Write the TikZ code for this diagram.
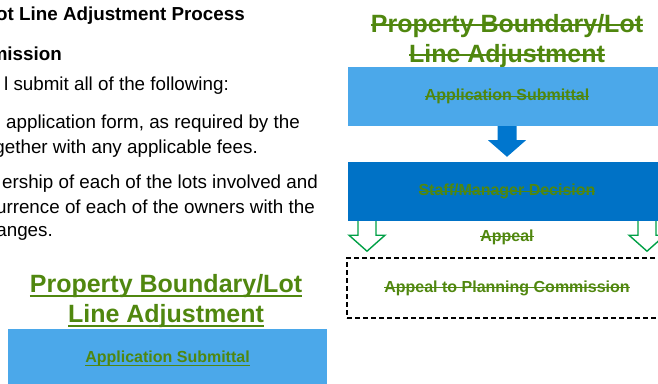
\documentclass[tikz,border=0pt]{standalone}
\usepackage{fontspec}
\setmainfont{Liberation Sans}
\usetikzlibrary{calc}
\definecolor{lblue}{RGB}{75,168,234}
\definecolor{dblue}{RGB}{0,114,198}
\definecolor{ablue}{RGB}{0,118,206}
\definecolor{tgreen}{RGB}{80,135,15}
\definecolor{agreen}{RGB}{0,160,70}
\newcommand{\lineover}[3]{{\setbox0\hbox{#3}\rlap{\rule[#1]{\wd0}{#2}}\box0}}
\newcommand{\strkbig}[1]{\lineover{6.1pt}{1.8pt}{#1}}
\newcommand{\strk}[1]{\lineover{3.8pt}{1.3pt}{#1}}
\newcommand{\ulbig}[1]{\lineover{-5pt}{2pt}{#1}}
\newcommand{\ulsmall}[1]{\lineover{-3.7pt}{1.4pt}{#1}}
\tikzset{
  bodytxt/.style={anchor=base east, inner sep=0pt, text=black, font=\fontsize{18.8}{22}\selectfont},
  bodybold/.style={bodytxt, font=\fontsize{18.8}{22}\selectfont\bfseries},
  bigtitle/.style={anchor=base, align=center, inner sep=0pt, text=tgreen, font=\fontsize{25}{30}\selectfont\bfseries},
  boxnode/.style={minimum width=318pt, minimum height=59pt, inner sep=0pt, text=tgreen, font=\fontsize{16}{19}\selectfont\bfseries},
  smalltxt/.style={inner sep=0pt, text=tgreen, font=\fontsize{16}{19}\selectfont\bfseries},
  hollowarrow/.style={fill=white, draw=agreen, line width=1.4pt, line join=miter}
}
\begin{document}
\begin{tikzpicture}[x=1pt,y=-1pt]
\useasboundingbox (0,0) rectangle (658,383);
\clip (0,0) rectangle (658,383);

% left column text
\node[bodybold] (h1) at (245,20) {ot Line Adjustment Process};
\node[bodybold] (h2) at (62,60) {mission};
\node[bodytxt] (l3) at (229,90) {l submit all of the following:};
\node[bodytxt] (l4) at (300,128) {application form, as required by the};
\node[bodytxt] (l5) at (258,153) {gether with any applicable fees.};
\node[bodytxt] (l6) at (318,188) {ership of each of the lots involved and};
\node[bodytxt] (l7) at (315,213) {urrence of each of the owners with the};
\node[bodytxt] (l8) at (53,236) {anges.};

% left small chart (anchor base = last line)
\node[bigtitle] (ltitle) at (166,322) {\ulbig{Property Boundary/Lot}\\\ulbig{Line Adjustment}};
\node[boxnode, fill=lblue, minimum width=319pt] (appL) at (167.5,358.5) {\ulsmall{Application Submittal}};

% right chart
\node[bigtitle] (rtitle) at (507,62) {\strkbig{Property Boundary/Lot}\\\strkbig{Line Adjustment}};
\node[boxnode, fill=lblue] (appR) at (507,96.5) {\strk{Application Submittal}};
\node[boxnode, fill=dblue] (dec) at (507,191.5) {\strk{Staff/Manager Decision}};
\node[boxnode, draw=black, line width=1.5pt, dash pattern=on 5pt off 3pt, minimum width=320pt, minimum height=60pt] (apc) at (507,288) {\strk{Appeal to Planning Commission}};
\node[smalltxt] (appeal) at (507,237) {\strk{Appeal}};

% blue down arrow
\fill[ablue] ($(appR.south)+(-9.5,0)$) -- ($(appR.south)+(-9.5,14)$) -- ($(appR.south)+(-19,14)$)
  -- ($(dec.north)+(0,-5)$) -- ($(appR.south)+(19,14)$) -- ($(appR.south)+(9.5,14)$)
  -- ($(appR.south)+(9.5,0)$) -- cycle;

% green hollow arrows
\foreach \s in {-140,140}{
  \filldraw[hollowarrow] ($(dec.south)+(\s-9,0)$) -- ++(0,14) -- ++(-9,0) -- ++(18,16) -- ++(18,-16) -- ++(-9,0) -- ++(0,-14);
}
\end{tikzpicture}
\end{document}
